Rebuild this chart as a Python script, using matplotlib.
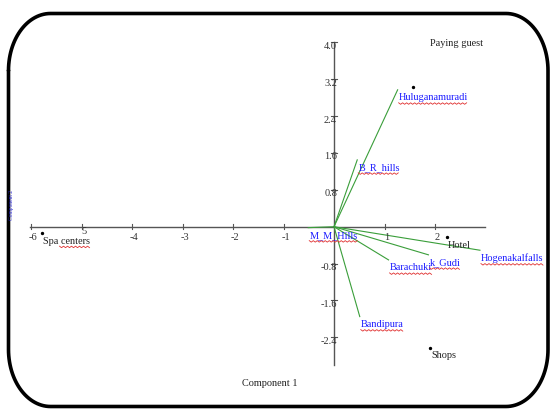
import numpy as np
import matplotlib
matplotlib.use("Agg")
import matplotlib.pyplot as plt
from matplotlib.lines import Line2D
from matplotlib.transforms import IdentityTransform

# Loading vectors (green arrows) and observation scores (black dots)
vec_names = ["Huluganamuradi", "B_R_hills", "M_M_Hills", "Barachuki",
             "k_Gudi", "Hogenakalfalls", "Bandipura"]
vec_x = [1.26, 0.46, -0.51, 1.08, 1.87, 2.89, 0.51]
vec_y = [2.97, 1.45, -0.02, -0.72, -0.61, -0.51, -1.95]

pt_names = ["Paying guest", "Hotel", "Shops", "Spa centers"]
pt_x = [1.57, 2.24, 1.91, -5.79]
pt_y = [3.04, -0.23, -2.62, -0.14]

x_ticks = [-6, -5, -4, -3, -2, -1, 1, 2]
x_tick_labels = ["-6", "5", "-4", "-3", "-2", "-1", "1", "2"]
y_ticks = [4.0, 3.2, 2.4, 1.6, 0.8, -0.8, -1.6, -2.4]
y_tick_labels = ["4.0", "3.2", "2.4", "1.6", "0.8", "-0.8", "-1.6", "-2.4"]

W, H = 550, 409
SERIF = "Liberation Serif"
FS = 7.4

fig = plt.figure(figsize=(W / 100, H / 100), dpi=100)
fig.patch.set_facecolor("white")

# data axes filling the whole canvas
ax = fig.add_axes([0, 0, 1, 1])
ax.set_xlim(-6.614, 4.277)
ax.set_ylim(-3.954, 4.918)
ax.axis("off")

axis_col = "#555555"
ax.plot([-6.02, 2.99], [0, 0], color=axis_col, lw=1.0)
ax.plot([0, 0], [-3.0, 4.0], color=axis_col, lw=1.0)

for t, lab in zip(x_ticks, x_tick_labels):
    ax.plot([t, t], [-0.05, 0.05], color=axis_col, lw=0.8)
    dy = -5 if lab == "5" else -11
    ax.annotate(lab, (t, 0), xytext=(2, dy), textcoords="offset pixels",
                ha="center", va="center", fontsize=7.5, family=SERIF, color="#333333")

for t, lab in zip(y_ticks, y_tick_labels):
    ax.plot([-0.05, 0.05], [t, t], color=axis_col, lw=0.8)
    ax.annotate(lab, (0, t), xytext=(3, -4), textcoords="offset pixels",
                ha="right", va="center", fontsize=7.5, family=SERIF, color="#333333")

# loading vectors
underlined = []
for name, vx, vy in zip(vec_names, vec_x, vec_y):
    ax.plot([0, vx], [0, vy], color="#3a9e3a", lw=0.8)
    t = ax.annotate(name, (vx, vy), xytext=(1, -8), textcoords="offset pixels",
                    ha="left", va="center", fontsize=FS, family=SERIF, color="#1a1aff")
    underlined.append((t, 0.0))

# observation points
ax.scatter(pt_x, pt_y, s=2, color="black", zorder=3)
label_offsets = {"Paying guest": (17, 43)}
for name, px, py in zip(pt_names, pt_x, pt_y):
    off = label_offsets.get(name, (1, -8))
    t = ax.annotate(name, (px, py), xytext=off, textcoords="offset pixels",
                    ha="left", va="center", fontsize=FS, family=SERIF, color="#222222")
    if name == "Spa centers":
        underlined.append((t, 0.36))

fig.text(270 / W, 1 - 383 / H, "Component 1", ha="center", va="center",
         fontsize=FS, family=SERIF, color="#222222")
fig.text(11 / W, 1 - 205 / H, "Component 2", ha="center", va="center",
         rotation=90, fontsize=4, family=SERIF, color="#2222cc")

# rounded frame drawn in pixel space (y measured from the top)
fr = fig.add_axes([0, 0, 1, 1], facecolor="none")
fr.set_xlim(0, W)
fr.set_ylim(H, 0)
fr.axis("off")
x0, x1, y0, y1 = 8.5, 548, 13.5, 406.5
rx, ry = 42, 57


def arc(cx, cy, a0, a1):
    a = np.linspace(np.radians(a0), np.radians(a1), 30)
    return cx + rx * np.cos(a), cy + ry * np.sin(a)


segs = [arc(x0 + rx, y0 + ry, 180, 270), arc(x1 - rx, y0 + ry, 270, 360),
        arc(x1 - rx, y1 - ry, 0, 90), arc(x0 + rx, y1 - ry, 90, 180)]
fx = np.concatenate([s[0] for s in segs] + [segs[0][0][:1]])
fy = np.concatenate([s[1] for s in segs] + [segs[0][1][:1]])
fr.plot(fx, fy, color="black", lw=2.6, solid_capstyle="round")

# red wavy spell-check underlines below the labels
fig.canvas.draw()
renderer = fig.canvas.get_renderer()
for t, frac in underlined:
    bb = t.get_window_extent(renderer)
    xs = np.arange(bb.x0 + frac * bb.width, bb.x1, 2.0)
    ys = bb.y0 - 0.5 + np.where(np.arange(len(xs)) % 2 == 0, 0.0, -1.5)
    fig.add_artist(Line2D(xs, ys, transform=IdentityTransform(),
                          color="#e03030", lw=0.6))

fig.savefig("out.png", dpi=100)
